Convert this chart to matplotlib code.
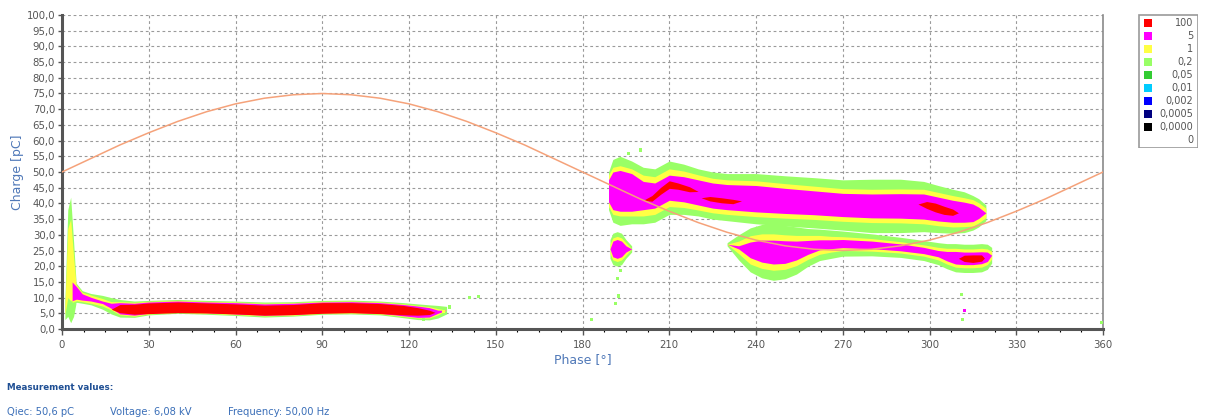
import numpy as np
import matplotlib
matplotlib.use("Agg")
import matplotlib.pyplot as plt
from matplotlib.patches import Rectangle

# ---------------- data ----------------
# Reference voltage curve (every 10 degrees)
SINE_PHASE = list(range(0, 361, 10))
SINE_Q = [50.0, 54.3, 58.6, 62.5, 66.1, 69.2, 71.7, 73.5, 74.6, 75.0, 74.6, 73.5,
          71.7, 69.2, 66.1, 62.5, 58.6, 54.3, 50.0, 45.7, 41.4, 37.5, 33.9, 30.8,
          28.3, 26.5, 25.4, 25.0, 25.4, 26.5, 28.3, 30.8, 33.9, 37.5, 41.4, 45.7, 50.0]

# Intensity levels (legend)
LEVEL_LABELS = ["100", "5", "1", "0,2", "0,05", "0,01", "0,002", "0,0005", "0,0000", "0"]
LEVEL_COLORS = ["#ff0000", "#ff00ff", "#ffff44", "#99ff66", "#33cc33", "#00ccff",
                "#0000ff", "#000080", "#000000", None]

# Cluster: vertical spike near 0 deg
S_PHASE = [1.0, 2.0, 3.0, 4.0, 4.8]
S_CENTER = [6.0, 21.0, 22.0, 16.0, 12.0]
S_GREEN = [3.0, 17.0, 20.0, 12.0, 4.0]
S_YELLOW = [1.5, 11.0, 13.0, 7.0, 3.0]
S_MAGENTA = [0.0, 0.0, 0.0, 0.0, 0.0]

# Cluster A: positive half cycle, low charge band
A_PHASE = [3.5, 5, 7, 10, 14, 17, 20, 25, 30, 40, 50, 60, 70, 80, 90, 100, 110, 118, 123, 127, 130, 133]
A_CENTER = [12.0, 11.5, 10.2, 9.5, 8.5, 7.4, 6.6, 6.3, 6.8, 7.2, 6.9, 6.6, 6.2, 6.4, 6.9, 7.0, 6.7,
            6.0, 5.5, 5.3, 5.5, 6.0]
A_GREEN = [4.0, 3.0, 2.0, 1.8, 2.2, 2.6, 2.8, 2.6, 2.3, 2.2, 2.2, 2.3, 2.4, 2.3, 2.2, 2.2, 2.2,
           2.4, 2.5, 2.4, 2.0, 1.2]
A_YELLOW = [3.5, 2.5, 1.5, 1.3, 1.2, 1.3, 2.1, 2.2, 2.0, 1.9, 1.9, 2.0, 2.0, 2.0, 1.9, 1.9, 1.9,
            2.0, 2.0, 1.8, 1.0, 0.0]
A_MAGENTA = [3.0, 2.0, 1.0, 0.6, 0.4, 0.8, 1.8, 1.9, 1.8, 1.7, 1.7, 1.8, 1.8, 1.8, 1.7, 1.7, 1.7,
             1.8, 1.8, 1.5, 0.5, 0.0]

# Cluster B: negative half cycle, upper band
B_PHASE = [189, 190.5, 193, 197, 201, 205, 210, 215, 220, 225, 230, 240, 250, 260, 270, 280, 290,
           298, 303, 308, 312, 315, 317, 319.5]
B_CENTER = [44.0, 44.0, 44.0, 43.5, 42.5, 42.5, 45.0, 44.5, 43.5, 42.5, 42.0, 41.5, 40.8, 40.2,
            39.5, 39.2, 39.2, 39.0, 38.2, 37.5, 37.2, 37.0, 37.0, 37.0]
B_GREEN = [6.0, 10.0, 11.0, 10.0, 9.0, 8.5, 8.5, 8.0, 7.5, 7.5, 7.5, 8.0, 8.0, 8.0, 8.0, 8.5, 8.5,
           8.0, 7.5, 7.0, 6.5, 5.5, 4.5, 2.5]
B_YELLOW = [5.0, 7.5, 8.0, 7.5, 6.5, 6.0, 6.0, 5.8, 5.6, 5.5, 5.5, 5.7, 5.5, 5.3, 5.2, 5.3, 5.4,
            5.5, 5.3, 5.0, 4.6, 4.2, 3.2, 1.5]
B_MAGENTA = [3.5, 6.0, 6.5, 6.0, 4.5, 4.0, 4.0, 4.0, 4.0, 4.0, 4.0, 4.2, 4.0, 3.8, 3.7, 3.8, 3.9,
             4.0, 3.8, 3.5, 3.2, 2.8, 1.8, 0.0]

# Cluster C: negative half cycle, lower band
C_PHASE = [230, 234, 238, 242, 246, 250, 254, 258, 262, 266, 270, 280, 290, 298, 303, 306, 309,
           312, 315, 318, 320, 321.5]
C_CENTER = [27.0, 26.0, 25.2, 24.8, 24.5, 24.5, 25.0, 26.0, 26.8, 27.0, 27.2, 26.8, 26.0, 25.0,
            24.0, 23.2, 22.7, 22.5, 22.5, 22.7, 23.0, 23.5]
C_GREEN = [0.5, 4.0, 7.0, 8.5, 9.0, 8.5, 7.5, 6.0, 5.0, 4.5, 4.0, 3.5, 3.2, 3.2, 3.5, 4.0, 4.5,
           4.5, 4.5, 4.5, 4.0, 2.5]
C_YELLOW = [0.0, 2.0, 4.5, 5.5, 5.8, 5.5, 4.8, 3.8, 3.0, 2.5, 2.2, 2.0, 1.8, 1.8, 2.0, 2.5, 3.0,
            3.0, 3.0, 3.0, 2.5, 1.2]
C_MAGENTA = [0.0, 0.5, 2.5, 3.5, 3.8, 3.6, 3.0, 2.2, 1.6, 1.4, 1.3, 1.2, 1.1, 1.0, 1.0, 1.5, 2.0,
             2.0, 2.0, 1.9, 1.5, 0.0]

# Cluster E: small blob at ~190 deg, 25 pC
E_PHASE = [189.5, 190.5, 192, 193.5, 195, 197]
E_CENTER = [25.5, 25.5, 25.5, 25.5, 25.5, 25.5]
E_GREEN = [3.0, 5.0, 5.5, 5.0, 3.0, 1.0]
E_YELLOW = [1.5, 3.5, 4.0, 3.5, 2.0, 0.0]
E_MAGENTA = [0.0, 2.5, 3.0, 2.5, 1.0, 0.0]

# Red (highest intensity) streaks
R1_PHASE = [17, 20, 25, 30, 40, 50, 60, 70, 80, 90, 100, 110, 118, 123, 127, 129]
R1_CENTER = [6.3, 6.5, 6.3, 6.6, 6.9, 6.7, 6.4, 6.0, 6.2, 6.7, 6.8, 6.5, 6.0, 5.6, 5.3, 5.3]
R1_HALF = [0.0, 1.3, 1.6, 1.7, 1.7, 1.6, 1.6, 1.6, 1.6, 1.7, 1.6, 1.6, 1.5, 1.2, 0.7, 0.0]

R2_PHASE = [201, 204, 207, 210, 213, 217, 220]
R2_CENTER = [41.0, 41.6, 44.0, 46.0, 45.5, 44.5, 43.8]
R2_HALF = [0.0, 0.9, 1.1, 1.2, 1.0, 0.8, 0.0]

R3_PHASE = [221, 224, 228, 232, 235]
R3_CENTER = [41.8, 41.5, 41.0, 40.6, 40.8]
R3_HALF = [0.0, 0.7, 0.8, 0.7, 0.0]

R4_PHASE = [296, 299, 302, 305, 308, 310]
R4_CENTER = [39.8, 39.5, 38.7, 37.8, 37.2, 37.0]
R4_HALF = [0.0, 1.1, 1.4, 1.3, 1.0, 0.0]

R5_PHASE = [310, 312, 315, 318, 319]
R5_CENTER = [22.5, 22.5, 22.4, 22.6, 22.6]
R5_HALF = [0.0, 1.0, 1.2, 1.0, 0.0]

# isolated points
DOT_PHASE = [134, 141, 144, 132, 183, 191.5, 192.5, 193, 196, 200, 311, 312, 311.5, 359.5, 125, 192]
DOT_Q = [7.0, 10.0, 10.3, 5.5, 3.0, 8.0, 10.5, 18.5, 56.0, 57.0, 11.0, 6.0, 3.0, 2.0, 3.0, 16.0]
DOT_COLOR = ["#99ff66", "#99ff66", "#99ff66", "#ffff44", "#99ff66", "#99ff66", "#99ff66",
             "#99ff66", "#99ff66", "#99ff66", "#99ff66", "#ff00ff", "#99ff66", "#99ff66",
             "#99ff66", "#99ff66"]

# axis text
Y_TICKS = list(np.arange(0, 101, 5))
Y_TICK_LABELS = [f"{v:.1f}".replace(".", ",") for v in Y_TICKS]
X_TICKS = list(range(0, 361, 30))
MEAS_TITLE = "Measurement values:"
MEAS_TEXTS = ["Qiec: 50,6 pC", "Voltage: 6,08 kV", "Frequency: 50,00 Hz"]

# ---------------- figure ----------------
W, H = 1207, 418
fig = plt.figure(figsize=(W / 100, H / 100), dpi=100)
fig.patch.set_facecolor("white")
ax = fig.add_axes([62 / W, (H - 329) / H, 1041 / W, 314 / H])

GREEN, YELLOW, MAGENTA, RED = "#99ff66", "#ffff44", "#ff00ff", "#ff0000"

clusters = [
    (S_PHASE, S_CENTER, S_GREEN, S_YELLOW, S_MAGENTA),
    (A_PHASE, A_CENTER, A_GREEN, A_YELLOW, A_MAGENTA),
    (B_PHASE, B_CENTER, B_GREEN, B_YELLOW, B_MAGENTA),
    (C_PHASE, C_CENTER, C_GREEN, C_YELLOW, C_MAGENTA),
    (E_PHASE, E_CENTER, E_GREEN, E_YELLOW, E_MAGENTA),
]

for lvl, col in ((2, GREEN), (3, YELLOW), (4, MAGENTA)):
    for cl in clusters:
        ph = np.array(cl[0]); c = np.array(cl[1]); hw = np.array(cl[lvl])
        ax.fill_between(ph, c - hw, c + hw, color=col, lw=0, zorder=2 + lvl * 0.1)

for ph, c, hw in ((R1_PHASE, R1_CENTER, R1_HALF), (R2_PHASE, R2_CENTER, R2_HALF),
                  (R3_PHASE, R3_CENTER, R3_HALF), (R4_PHASE, R4_CENTER, R4_HALF),
                  (R5_PHASE, R5_CENTER, R5_HALF)):
    ph = np.array(ph); c = np.array(c); hw = np.array(hw)
    ax.fill_between(ph, c - hw, c + hw, color=RED, lw=0, zorder=2.6)

ax.scatter(DOT_PHASE, DOT_Q, c=DOT_COLOR, marker="s", s=5, lw=0, zorder=2.7)

ax.plot(SINE_PHASE, SINE_Q, color="#f5a27a", lw=1.1, zorder=3)

ax.set_xlim(0, 360)
ax.set_ylim(0, 100)
ax.set_xticks(X_TICKS)
ax.set_xticks(np.arange(0, 361, 7.5), minor=True)
ax.set_yticks(Y_TICKS)
ax.set_yticklabels(Y_TICK_LABELS)
ax.tick_params(axis="both", labelsize=7.3, colors="#555555", labelcolor="#555555")
ax.tick_params(axis="x", which="major", length=4, width=1, pad=4)
ax.tick_params(axis="x", which="minor", length=2, width=0.8)
ax.tick_params(axis="y", which="major", length=3, width=1, pad=2)

ax.grid(True, which="major", color="#9a9a9a", lw=0.8, ls=(0, (2.5, 2.5)), zorder=1)
ax.set_axisbelow(True)
for s in ("left", "bottom"):
    ax.spines[s].set_color("#555555")
    ax.spines[s].set_linewidth(2.2)
ax.spines["top"].set_visible(False)
ax.spines["right"].set_color("#8a8a8a")
ax.spines["right"].set_linewidth(1.2)

ax.set_xlabel("Phase [°]", fontsize=9, color="#4f78b8", labelpad=2)
ax.set_ylabel("Charge [pC]", fontsize=9, color="#4f78b8", labelpad=2)

# legend box (manual)
lax = fig.add_axes([1138 / W, (H - 148) / H, 60 / W, 134 / H])
lax.set_xlim(0, 60)
lax.set_ylim(134, 0)
lax.axis("off")
lax.add_patch(Rectangle((0.5, 0.5), 59, 133, fill=False, ec="#999999", lw=1.2))
for i, (lab, col) in enumerate(zip(LEVEL_LABELS, LEVEL_COLORS)):
    y = 9 + i * 13
    if col is not None:
        lax.add_patch(Rectangle((5.5, y - 4), 8.5, 8, color=col, lw=0))
    lax.text(55, y, lab, ha="right", va="center", fontsize=7, color="#555555")

fig.text(7 / W, 1 - 387 / H, MEAS_TITLE, fontsize=6.3, fontweight="bold", color="#1f4f94",
         va="center", ha="left")
for x, t in zip((7, 110, 228), MEAS_TEXTS):
    fig.text(x / W, 1 - 412 / H, t, fontsize=7.2, color="#3b6fb8", va="center", ha="left")

fig.savefig("out.png", dpi=100)
